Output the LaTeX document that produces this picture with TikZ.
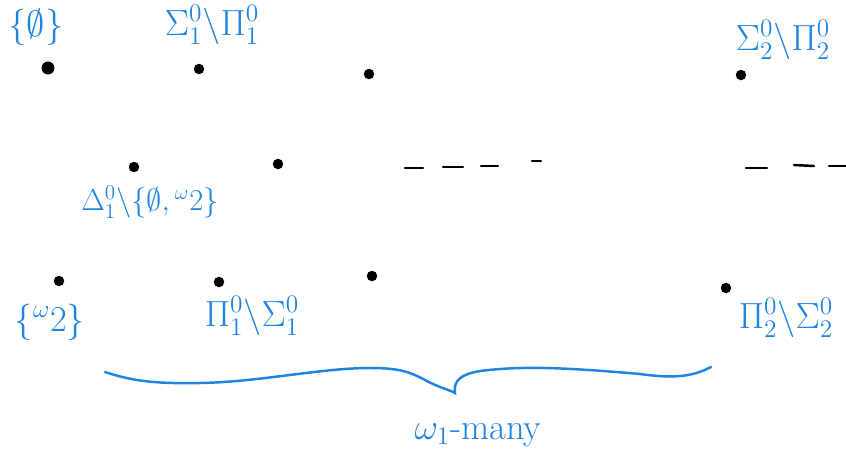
\documentclass[tikz,border=0pt]{standalone}
\usepackage{amsmath}
\usepackage{amssymb}
\usepackage{xcolor}
\definecolor{pen}{RGB}{30,132,226}
\begin{document}
\begin{tikzpicture}[
  x=0.02cm, y=-0.02cm,
  dot/.style={circle,fill=black,inner sep=0pt,minimum size=2.6mm},
  sdot/.style={circle,fill=black,inner sep=0pt,minimum size=2.1mm},
  lbl/.style={text=pen,font=\huge,inner sep=0pt},
  dashline/.style={line width=1.4pt,line cap=round},
  baseline=(current bounding box.north)
]
  \useasboundingbox (0,0) rectangle (846,461);
  % points of the hierarchy
  \node[dot] (e0) at (48,68) {};
  \node[sdot] (s1) at (199,69) {};
  \node[sdot] (s1b) at (369,74) {};
  \node[sdot] (s2) at (741,75) {};
  \node[sdot] (d1) at (134,167) {};
  \node[sdot] (d1b) at (278,164) {};
  \node[sdot] (w0) at (59,281) {};
  \node[sdot] (p1) at (219,282) {};
  \node[sdot] (p1b) at (372,276) {};
  \node[sdot] (p2) at (726,288) {};
  % labels
  \node[lbl] (le0) at (36,27) {$\{\emptyset\}$};
  \node[lbl] (ls1) at (212,25) {$\Sigma^0_1{\setminus}\Pi^0_1$};
  \node[lbl] (ls2) at (783,40) {$\Sigma^0_2{\setminus}\Pi^0_2$};
  \node[lbl,font=\LARGE] (ld1) at (150,202) {$\Delta^0_1{\setminus}\{\emptyset,{}^\omega 2\}$};
  \node[lbl] (lw0) at (50,322) {$\{{}^\omega 2\}$};
  \node[lbl] (lp1) at (252,316) {$\Pi^0_1{\setminus}\Sigma^0_1$};
  \node[lbl] (lp2) at (786,318) {$\Pi^0_2{\setminus}\Sigma^0_2$};
  \node[lbl] (many) at (478,435) {$\omega_1$-many};
  % dots in the middle row
  \draw[dashline] (405,168) -- (423,168);
  \draw[dashline] (443,167) -- (463,167);
  \draw[dashline] (481,166) -- (498,166);
  \draw[dashline] (532,161) -- (541,161);
  \draw[dashline] (746,168) -- (767,168);
  \draw[dashline] (794,165) -- (814,166);
  \draw[dashline] (829,166) -- (846,166);
  % brace
  \draw[pen,line width=1.4pt,line cap=round]
    (105,372) .. controls (130,380) and (150,384) .. (200,383)
    .. controls (260,382) and (320,368) .. (370,368)
    .. controls (400,368) and (410,372) .. (425,380)
    .. controls (440,388) and (450,390) .. (455,393)
    .. controls (453,380) and (462,374) .. (480,371)
    .. controls (520,366) and (560,367) .. (640,374)
    .. controls (670,378) and (690,378) .. (711,367);
\end{tikzpicture}
\end{document}
